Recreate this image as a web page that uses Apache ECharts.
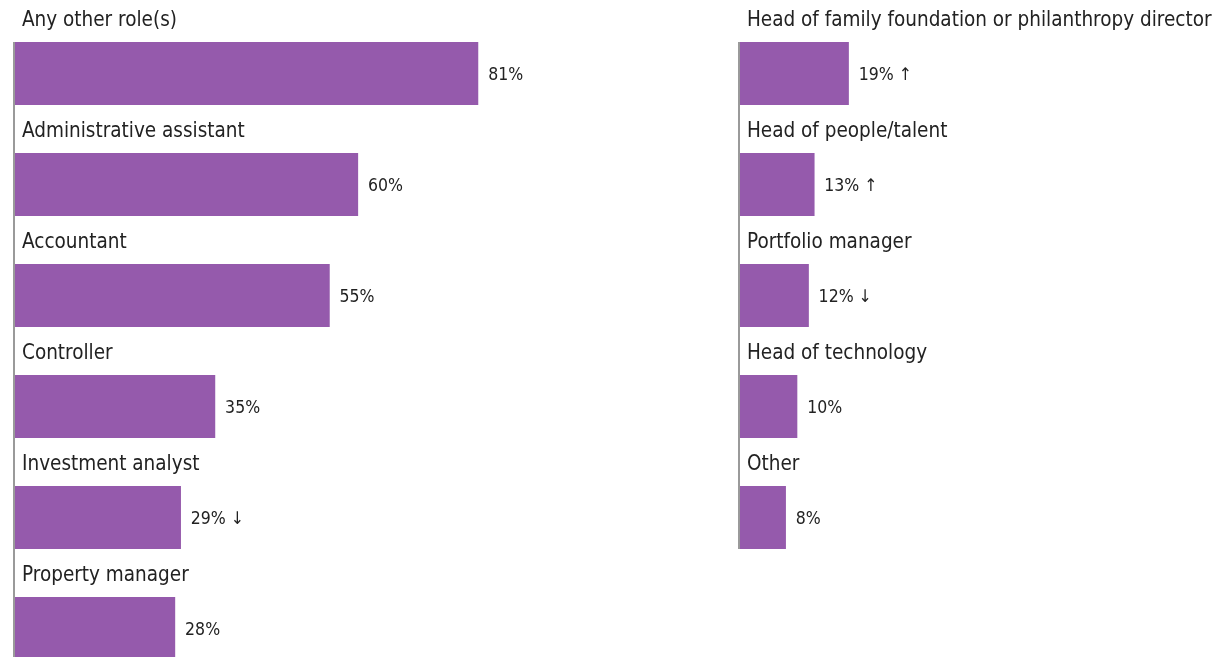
<!DOCTYPE html>
<html>
<head>
<meta charset="utf-8">
<script src="https://cdn.jsdelivr.net/npm/echarts@6/dist/echarts.min.js"></script>
<style>
html,body{margin:0;padding:0;background:#fff;}
#chart{width:1221px;height:657px;}
</style>
</head>
<body>
<div id="chart"></div>
<script>
const leftCategories = ['Any other role(s)', 'Administrative assistant', 'Accountant', 'Controller', 'Investment analyst', 'Property manager'];
const leftValues = [81, 60, 55, 35, 29, 28];
const leftTrend = ['', '', '', '', 'down', ''];

const rightCategories = ['Head of family foundation or philanthropy director', 'Head of people/talent', 'Portfolio manager', 'Head of technology', 'Other'];
const rightValues = [19, 13, 12, 10, 8];
const rightTrend = ['up', 'up', 'down', '', ''];

const BAR_COLOR = '#955AAC';
const FONT = '"Liberation Sans Narrow", "DejaVu Sans Condensed", "Noto Sans", sans-serif';
const BAR_W = 63;
const ROW = 111;

const arrow = t => t === 'up' ? ' \u2191' : (t === 'down' ? ' \u2193' : '');

function makeSeries(idx, cats, vals, trend) {
  return [
    {
      type: 'bar', xAxisIndex: idx, yAxisIndex: idx, barWidth: BAR_W, barGap: '-100%',
      data: vals, itemStyle: { color: BAR_COLOR }, silent: true,
      label: {
        show: true, position: [7, -21], align: 'left', verticalAlign: 'middle',
        formatter: p => cats[p.dataIndex], color: '#222', fontSize: 20.5, fontFamily: FONT
      }
    },
    {
      type: 'bar', xAxisIndex: idx, yAxisIndex: idx, barWidth: BAR_W, barGap: '-100%',
      data: vals, itemStyle: { color: BAR_COLOR }, silent: true,
      label: {
        show: true, position: 'right', distance: 10, offset: [0, 1.5],
        formatter: p => p.value + '%' + arrow(trend[p.dataIndex]),
        color: '#222', fontSize: 17.5, fontFamily: FONT
      }
    }
  ];
}

const chart = echarts.init(document.getElementById('chart'), null, { renderer: 'canvas' });
const option = {
  animation: false,
  backgroundColor: '#fff',
  grid: [
    { left: 15, top: 18, width: 470, height: ROW * leftCategories.length, outerBoundsMode: 'none', containLabel: false },
    { left: 740, top: 18, width: 470, height: ROW * rightCategories.length, outerBoundsMode: 'none', containLabel: false }
  ],
  xAxis: [0, 1].map(i => ({
    type: 'value', gridIndex: i, min: 0, max: 82.2, show: false
  })),
  yAxis: [
    { type: 'category', gridIndex: 0, data: leftCategories, inverse: true, show: false },
    { type: 'category', gridIndex: 1, data: rightCategories, inverse: true, show: false }
  ],
  series: [
    ...makeSeries(0, leftCategories, leftValues, leftTrend),
    ...makeSeries(1, rightCategories, rightValues, rightTrend)
  ]
};
chart.setOption(option);

// vertical baseline from the top of the first bar to the bottom of the last, derived from the scales
function baseLine(gi, cats) {
  const top = chart.convertToPixel({ gridIndex: gi }, [0, cats[0]]);
  const bot = chart.convertToPixel({ gridIndex: gi }, [0, cats[cats.length - 1]]);
  return {
    type: 'line', z: 10,
    shape: { x1: top[0] - 1, y1: top[1] - BAR_W / 2, x2: bot[0] - 1, y2: bot[1] + BAR_W / 2 },
    style: { stroke: '#9a9a9a', lineWidth: 2 }
  };
}
chart.setOption({ graphic: [baseLine(0, leftCategories), baseLine(1, rightCategories)] });
</script>
</body>
</html>
